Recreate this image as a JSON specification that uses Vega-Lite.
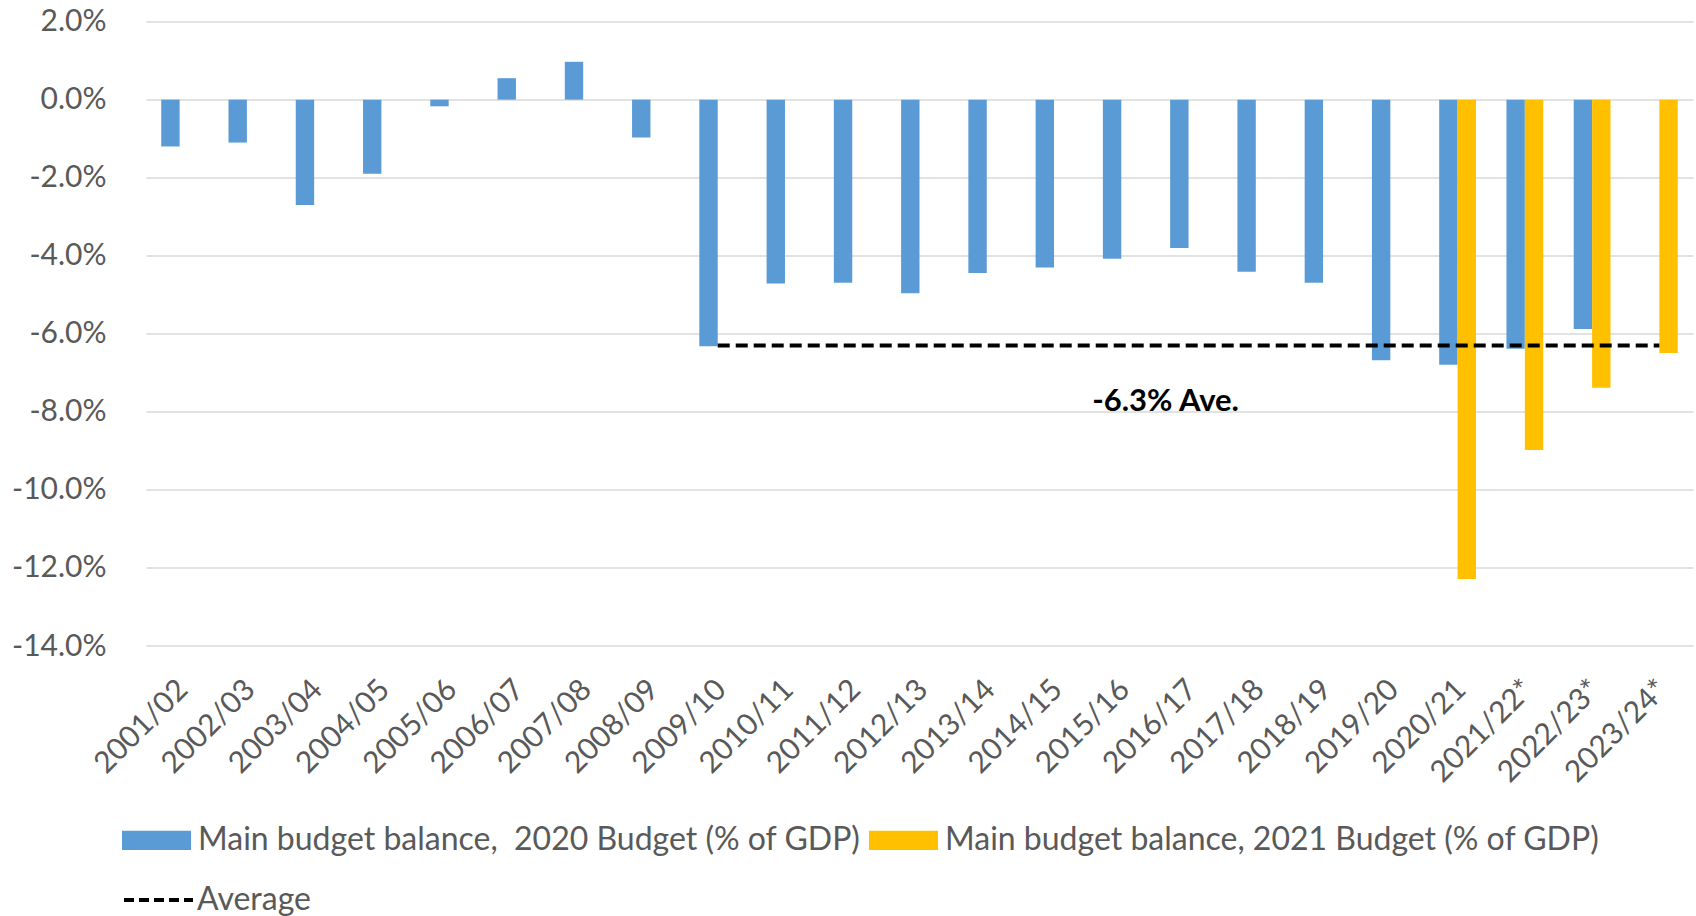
{
  "$schema": "https://vega.github.io/schema/vega-lite/v6.json",
  "autosize": {"type": "none"},
  "padding": {"left": 146, "top": 21.6, "right": 3, "bottom": 270},
  "width": 1547,
  "height": 624.4,
  "background": "white",
  "config": {
    "view": {"stroke": null},
    "font": "Lato",
    "axis": {"labelFont": "Lato", "labelColor": "#595959", "labelFontSize": 30},
    "legend": {"labelFont": "Lato", "labelColor": "#595959", "labelFontSize": 32}
  },
  "datasets": {
    "bars": [
      {"year": "2001/02", "series": "Main budget balance,\u00a0 2020 Budget (% of GDP)", "value": -0.012},
      {"year": "2002/03", "series": "Main budget balance,\u00a0 2020 Budget (% of GDP)", "value": -0.011},
      {"year": "2003/04", "series": "Main budget balance,\u00a0 2020 Budget (% of GDP)", "value": -0.027},
      {"year": "2004/05", "series": "Main budget balance,\u00a0 2020 Budget (% of GDP)", "value": -0.019},
      {"year": "2005/06", "series": "Main budget balance,\u00a0 2020 Budget (% of GDP)", "value": -0.0017},
      {"year": "2006/07", "series": "Main budget balance,\u00a0 2020 Budget (% of GDP)", "value": 0.0055},
      {"year": "2007/08", "series": "Main budget balance,\u00a0 2020 Budget (% of GDP)", "value": 0.0097},
      {"year": "2008/09", "series": "Main budget balance,\u00a0 2020 Budget (% of GDP)", "value": -0.0097},
      {"year": "2009/10", "series": "Main budget balance,\u00a0 2020 Budget (% of GDP)", "value": -0.0632},
      {"year": "2010/11", "series": "Main budget balance,\u00a0 2020 Budget (% of GDP)", "value": -0.0471},
      {"year": "2011/12", "series": "Main budget balance,\u00a0 2020 Budget (% of GDP)", "value": -0.0469},
      {"year": "2012/13", "series": "Main budget balance,\u00a0 2020 Budget (% of GDP)", "value": -0.0496},
      {"year": "2013/14", "series": "Main budget balance,\u00a0 2020 Budget (% of GDP)", "value": -0.0444},
      {"year": "2014/15", "series": "Main budget balance,\u00a0 2020 Budget (% of GDP)", "value": -0.043},
      {"year": "2015/16", "series": "Main budget balance,\u00a0 2020 Budget (% of GDP)", "value": -0.0408},
      {"year": "2016/17", "series": "Main budget balance,\u00a0 2020 Budget (% of GDP)", "value": -0.038},
      {"year": "2017/18", "series": "Main budget balance,\u00a0 2020 Budget (% of GDP)", "value": -0.0441},
      {"year": "2018/19", "series": "Main budget balance,\u00a0 2020 Budget (% of GDP)", "value": -0.0469},
      {"year": "2019/20", "series": "Main budget balance,\u00a0 2020 Budget (% of GDP)", "value": -0.0668},
      {"year": "2020/21", "series": "Main budget balance,\u00a0 2020 Budget (% of GDP)", "value": -0.0679},
      {"year": "2021/22*", "series": "Main budget balance,\u00a0 2020 Budget (% of GDP)", "value": -0.0638},
      {"year": "2022/23*", "series": "Main budget balance,\u00a0 2020 Budget (% of GDP)", "value": -0.0588},
      {"year": "2020/21", "series": "Main budget balance, 2021 Budget (% of GDP)", "value": -0.1228},
      {"year": "2021/22*", "series": "Main budget balance, 2021 Budget (% of GDP)", "value": -0.0898},
      {"year": "2022/23*", "series": "Main budget balance, 2021 Budget (% of GDP)", "value": -0.0738},
      {"year": "2023/24*", "series": "Main budget balance, 2021 Budget (% of GDP)", "value": -0.0649}
    ],
    "avg": [
      {"year": "2009/10", "series": "Average", "value": -0.063},
      {"year": "2023/24*", "series": "Average", "value": -0.063}
    ]
  },
  "encoding": {
    "x": {
      "field": "year",
      "type": "nominal",
      "scale": {
        "domain": ["2001/02","2002/03","2003/04","2004/05","2005/06","2006/07","2007/08","2008/09","2009/10","2010/11","2011/12","2012/13","2013/14","2014/15","2015/16","2016/17","2017/18","2018/19","2019/20","2020/21","2021/22*","2022/23*","2023/24*"],
        "paddingInner": 0.453,
        "paddingOuter": 0.2265
      },
      "axis": {
        "title": null,
        "labelAngle": -45,
        "domain": false,
        "ticks": false,
        "grid": false,
        "labelPadding": 28,
        "labelOffset": -7,
        "labelFontSize": 30
      }
    },
    "y": {
      "field": "value",
      "type": "quantitative",
      "scale": {"domain": [-0.14, 0.02], "nice": false, "zero": false},
      "axis": {
        "title": null,
        "values": [-0.14, -0.12, -0.10, -0.08, -0.06, -0.04, -0.02, 0, 0.02],
        "labelExpr": "replace(format(datum.value, '.1%'), '\u2212', '-')",
        "domain": false,
        "ticks": false,
        "grid": true,
        "gridColor": "#d9d9d9",
        "gridWidth": 1.5,
        "labelPadding": 40
      }
    }
  },
  "layer": [
    {
      "data": {"name": "bars"},
      "mark": {"type": "bar"},
      "encoding": {
        "xOffset": {
          "field": "series",
          "type": "nominal",
          "scale": {"domain": ["Main budget balance,\u00a0 2020 Budget (% of GDP)", "Main budget balance, 2021 Budget (% of GDP)"], "paddingInner": 0, "paddingOuter": 0}
        },
        "color": {
          "field": "series",
          "type": "nominal",
          "scale": {"domain": ["Main budget balance,\u00a0 2020 Budget (% of GDP)", "Main budget balance, 2021 Budget (% of GDP)"], "range": ["#5B9BD5", "#FFC000"]},
          "legend": {
            "title": null,
            "orient": "none",
            "direction": "horizontal",
            "legendX": -24,
            "legendY": 784,
            "padding": 0,
            "symbolType": "M-1,-0.28H1V0.28H-1Z",
            "symbolSize": 4761,
            "symbolStrokeWidth": 0,
            "labelOffset": 7,
            "columnPadding": 8,
            "labelLimit": 1000
          }
        }
      }
    },
    {
      "data": {"name": "avg"},
      "mark": {"type": "line", "strokeWidth": 4, "strokeDash": [12, 6]},
      "encoding": {
        "stroke": {
          "field": "series",
          "type": "nominal",
          "scale": {"domain": ["Average"], "range": ["black"]},
          "legend": {
            "title": null,
            "orient": "none",
            "legendX": -24,
            "legendY": 842,
            "padding": 0,
            "symbolType": "stroke",
            "symbolSize": 4761,
            "symbolStrokeWidth": 4,
            "symbolDash": [10, 5],
            "labelOffset": 2
          }
        }
      }
    },
    {
      "data": {"values": [{"year": "2016/17", "value": -0.0774, "label": "-6.3% Ave."}]},
      "mark": {"type": "text", "font": "Lato", "fontWeight": "bold", "fontSize": 31, "color": "black", "align": "center", "baseline": "middle", "dx": -23},
      "encoding": {
        "text": {"field": "label"}
      }
    }
  ]
}
